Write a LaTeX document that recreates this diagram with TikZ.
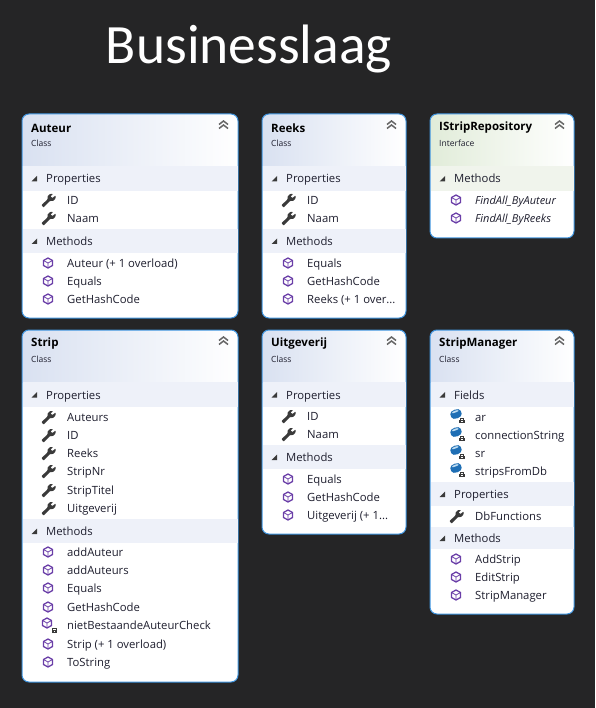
\documentclass[tikz,border=0pt]{standalone}
\usepackage{fontspec}
\setmainfont{Open Sans}
\newfontfamily\titlefont{Carlito}
\usepackage{tikz}
\usetikzlibrary{shapes}
\usetikzlibrary{arrows}

\definecolor{canvasdark}{HTML}{252526}
\definecolor{cardline}{HTML}{3F94DE}
\definecolor{classtint}{HTML}{D9E1F1}
\definecolor{classband}{HTML}{EEF1F9}
\definecolor{ifacetint}{HTML}{E1ECD9}
\definecolor{ifaceband}{HTML}{F0F4EC}
\definecolor{cubepurple}{HTML}{6B3FA8}
\definecolor{fieldblue}{HTML}{1F6FB5}
\definecolor{fieldlight}{HTML}{BFDDF2}
\definecolor{icondark}{HTML}{3A3A3A}
\definecolor{chevrongray}{HTML}{666666}
\definecolor{inktext}{HTML}{1E1E2E}

\tikzset{
	rowtext/.style={anchor=west,inner sep=0pt,font=\fontsize{11.3}{13}\selectfont,text=inktext,text height=10pt,text depth=1pt},
	titletext/.style={anchor=west,inner sep=0pt,font=\fontsize{11.5}{13}\selectfont\bfseries,text=black},
	kindtext/.style={anchor=west,inner sep=0pt,font=\fontsize{8.5}{10}\selectfont,text=inktext},
	wrench/.pic={
		\fill[icondark,rounded corners=.6pt] (-6.5,5) -- (-4.5,7.5) -- (2,1) -- (5,1) -- (7.5,-1.5) -- (7.5,-4.5) -- (4.5,-2) -- (2.5,-3.5) -- (5,-6) -- (2,-6) -- (-0.5,-3.5) -- (-0.5,-0.5) -- cycle;
	},
	cube/.pic={
		\draw[cubepurple,line width=1.3pt,line join=round,fill=white] (0,-5) -- (4.5,-2.5) -- (4.5,2.5) -- (0,5) -- (-4.5,2.5) -- (-4.5,-2.5) -- cycle;
		\draw[cubepurple,line width=.8pt] (-4.5,-2.5) -- (0,0) -- (4.5,-2.5) (0,0) -- (0,5);
	},
	lockicon/.pic={
		\draw[icondark,line width=.9pt] (-1.6,0) -- (-1.6,-1.6) -- (1.6,-1.6) -- (1.6,0);
		\fill[icondark] (-2.8,0) rectangle (2.8,3.4);
		\fill[white] (-.6,1.2) rectangle (.6,2.2);
	},
	fieldicon/.pic={
		\begin{scope}[shift={(0,-3)},rotate=20]
			\fill[fieldblue] (-5.5,-1.5) .. controls (-5.5,-5.5) and (5.5,-5.5) .. (5.5,-1.5) -- (5.5,1.5) .. controls (5.5,5.5) and (-5.5,5.5) .. (-5.5,1.5) -- cycle;
			\fill[fieldlight] (-3.6,-2.2) .. controls (-3.6,-3.9) and (3.6,-3.9) .. (3.6,-2.2) .. controls (3.6,-1.4) and (-3.6,-1.4) .. cycle;
		\end{scope}
		\pic at (6,3) {lockicon};
	},
	privatecube/.pic={
		\pic at (-1,-2) {cube};
		\pic at (6.5,5) {lockicon};
	},
}

% card: name, x, top, width, height, title, kind, tint
\newcommand{\classcard}[8]{
	\begin{scope}
		\clip[rounded corners=7pt] (#2,#3) rectangle +(#4,#5);
		\fill[white] (#2,#3) rectangle +(#4,#5);
		\shade[left color=#8,right color=white] (#2,#3) rectangle +(#4,52);
	\end{scope}
	\draw[cardline,line width=1pt,rounded corners=7pt] (#2,#3) rectangle +(#4,#5);
	\node[titletext] (#1title) at (#2+9,#3+14) {#6};
	\node[kindtext] (#1kind) at (#2+9,#3+29) {#7};
	\draw[chevrongray,line width=1.5pt] (#2+#4-19,#3+10.5) -- ++(4.5,-3.5) -- ++(4.5,3.5) ++(-9,4) -- ++(4.5,-3.5) -- ++(4.5,3.5);
}

% band: name, x, top, width, height, label, colour
\newcommand{\cardband}[7]{
	\fill[#7] (#2+.5,#3) rectangle +(#4-1,#5);
	\fill[icondark] (#2+9.5,#3+#5/2+3) -- (#2+15,#3+#5/2+3) -- (#2+15,#3+#5/2-2.5) -- cycle;
	\node[rowtext] (#1) at (#2+24,#3+#5/2) {#6};
}

% rows: icon, x, name, list of y/text
\newcommand{\cardrows}[4]{
	\foreach \ry/\rt in {#4}
	{
		\pic at (#2+26,\ry) {#1};
		\node[rowtext] (#3\ry) at (#2+45,\ry) {\rt};
	}
}

\begin{document}
\begin{tikzpicture}[x=1pt,y=-1pt]
\fill[canvasdark] (0,0) rectangle (595,708);
\useasboundingbox (0,0) rectangle (595,708);

\node[anchor=center,inner sep=0pt,text=white,font=\titlefont\fontsize{55.5}{60}\selectfont] (heading) at (249,49) {Businesslaag};

% top row
\classcard{auteur}{22}{114}{216}{204}{Auteur}{Class}{classtint}
\cardband{auteurprops}{22}{166}{216}{25}{Properties}{classband}
\cardrows{wrench}{22}{auteurprop}{200/ID,218/Naam}
\cardband{auteurmeths}{22}{229}{216}{24}{Methods}{classband}
\cardrows{cube}{22}{auteurmeth}{263/Auteur (+ 1 overload),281/Equals,299/GetHashCode}

\classcard{reeks}{262}{114}{144}{204}{Reeks}{Class}{classtint}
\cardband{reeksprops}{262}{166}{144}{25}{Properties}{classband}
\cardrows{wrench}{262}{reeksprop}{200/ID,218/Naam}
\cardband{reeksmeths}{262}{229}{144}{24}{Methods}{classband}
\cardrows{cube}{262}{reeksmeth}{263/Equals,281/GetHashCode,299/{Reeks (+ 1 over...}}

\classcard{repo}{430}{114}{144}{124}{IStripRepository}{Interface}{ifacetint}
\cardband{repometh}{430}{166}{144}{25}{Methods}{ifaceband}
\begin{scope}[rowtext/.append style={font=\fontsize{11}{13}\selectfont\itshape}]
\cardrows{cube}{430}{repom}{200/FindAll\_ByAuteur,218/FindAll\_ByReeks}
\end{scope}

% bottom row
\classcard{strip}{22}{330}{216}{352}{Strip}{Class}{classtint}
\cardband{stripprops}{22}{382}{216}{25}{Properties}{classband}
\cardrows{wrench}{22}{stripprop}{417/Auteurs,435/ID,453/Reeks,471/StripNr,490/StripTitel,508/Uitgeverij}
\cardband{stripmeths}{22}{519}{216}{24}{Methods}{classband}
\cardrows{cube}{22}{stripmeth}{552/addAuteur,570/addAuteurs,588/Equals,607/GetHashCode}
\cardrows{privatecube}{22}{stripmeth}{625/nietBestaandeAuteurCheck}
\cardrows{cube}{22}{stripmeth}{644/Strip (+ 1 overload),662/ToString}

\classcard{uitg}{262}{330}{144}{204}{Uitgeverij}{Class}{classtint}
\cardband{uitgprops}{262}{382}{144}{25}{Properties}{classband}
\cardrows{wrench}{262}{uitgprop}{416/ID,434/Naam}
\cardband{uitgmeths}{262}{445}{144}{24}{Methods}{classband}
\cardrows{cube}{262}{uitgmeth}{479/Equals,497/GetHashCode,515/{Uitgeverij (+ 1...}}

\classcard{manager}{430}{330}{144}{284}{StripManager}{Class}{classtint}
\cardband{managerfields}{430}{382}{144}{25}{Fields}{classband}
\cardrows{fieldicon}{430}{managerfield}{417/ar,435/connectionString,453/sr,471/stripsFromDb}
\cardband{managerprops}{430}{482}{144}{24}{Properties}{classband}
\cardrows{wrench}{430}{managerprop}{516/DbFunctions}
\cardband{managermeths}{430}{527}{144}{22}{Methods}{classband}
\cardrows{cube}{430}{managermeth}{559/AddStrip,577/EditStrip,595/StripManager}

\end{tikzpicture}
\end{document}
